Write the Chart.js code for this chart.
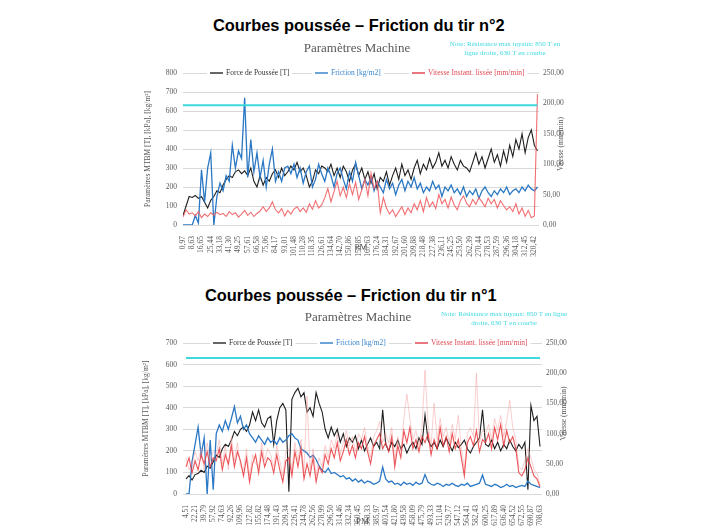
<!DOCTYPE html>
<html>
<head>
<meta charset="utf-8">
<script src="https://cdn.jsdelivr.net/npm/chart.js@4/dist/chart.umd.min.js"></script>
<style>
  body { margin: 0; background: #fff; width: 707px; height: 530px; position: relative; overflow: hidden; }
  h2 { position: absolute; margin: 0; font: bold 16.4px "Liberation Sans", Arial, sans-serif; color: #000; white-space: nowrap; }
  #titre2 { left: 213px; top: 16px; }
  #titre1 { left: 205px; top: 286px; }
  canvas { position: absolute; }
  #tir2 { left: 142px; top: 36px; }
  #tir1 { left: 140px; top: 304px; }
</style>
</head>
<body>
<h2 id="titre2">Courbes poussée – Friction du tir n°2</h2>
<h2 id="titre1">Courbes poussée – Friction du tir n°1</h2>
<canvas id="tir2" width="437" height="222"></canvas>
<canvas id="tir1" width="440" height="225"></canvas>
<script>
// 3 mesures par intervalle d'étiquette PM
const PAS = 3;
const limiteCourbe = 630;

// ---- tir n°2 ----
const pmTir2 = ["0,97","8,63","16,65","25,44","33,18","41,30","49,25","57,61","66,58","75,06","84,17","93,01","101,48","110,28","118,35","126,61","134,64","142,70","150,86","158,85","167,63","176,24","184,31","192,67","201,60","209,88","218,48","227,38","236,11","245,25","253,50","262,39","270,44","278,53","287,59","296,36","304,18","312,45","320,42"];
const forceTir2 = [50,100,150,145, 155,140,150, 120,90,130, 150,180,170,210, 240,260,250, 280,290,270, 285,260,300, 230,200,260, 210,250,230, 270,290,250, 300,260,280, 310,290,330, 280,300,260, 200,230,290, 270,310,300, 280,320,260, 300,250,310, 280,230,290, 320,260,300, 240,280,220, 270,190,250, 230,280,210, 260,300,240, 320,260,290, 240,300,340, 270,320,290, 350,300,330, 380,310,340, 300,360,320, 290,340,310, 300,280,330, 380,320,360, 300,350,400, 330,370,310, 390,330,420, 360,450,400, 480,380,460, 500,420,390];
const frictionTir2 = [0,0,0,0, 50,10,290, 120,300,380, 0,150,220, 180,260,230, 420,300,390, 350,670,250, 450,280,380, 250,340,200, 320,400,230, 280,230,300, 310,270,320, 250,300,220, 280,310,200, 240,320,270, 230,300,260, 200,270,300, 240,190,280, 230,330,260, 190,240,210, 250,180,230, 200,170,240, 190,220,160, 210,240,180, 230,200,250, 190,220,170, 200,180,230, 190,210,150, 200,180,210, 170,190,160, 200,150,180, 160,190,140, 180,200,170, 150,180,160, 190,170,200, 160,180,190, 170,200,180, 210,190,180,200];
const vitesseTir2 = [13,25,18,20, 15,22,12, 18,14,20, 16,21,17, 19,14,22, 17,20,13, 18,24,16, 21,14,19, 23,30,22, 28,38,25, 20,27,15, 24,18,26, 30,22,28, 21,35,26, 40,28,33, 45,60,38, 55,72,48, 62,45,68, 50,70,42, 58,75,48, 85,60,72, 20,45,28, 18,25,14, 22,30,17, 28,20,35, 25,40,22, 45,30,38, 27,50,35, 42,28,46, 33,25,40, 48,36,30, 42,34,45, 38,30,44, 35,42,28, 40,32,25, 30,22,35, 18,28,14, 24,12,15,215];

// ---- tir n°1 ----
const pmTir1 = ["4,51","22,21","39,79","57,92","74,63","92,26","109,96","127,82","155,82","174,48","191,43","209,34","226,41","244,78","262,56","278,99","296,50","314,46","332,34","350,45","368,33","385,97","403,54","421,80","439,58","458,09","475,79","493,33","511,04","529,77","547,12","564,41","582,43","600,25","617,89","636,40","654,52","672,55","690,87","708,63"];
const forceTir1 = [70,85,65,90, 95,110,100, 130,120,150, 180,170,210, 230,220,250, 290,270,300, 310,290,320, 380,340,390, 330,310,350, 360,230,340, 400,420,390, 10,440,470, 490,450,470, 380,400,360, 470,420,380, 300,260,310, 270,300,240, 280,220,260, 240,270,210, 250,200,230, 260,220,240, 210,390,230, 200,240,220, 250,210,230, 190,220,240, 210,260,230, 366,250,220, 240,210,250, 220,260,230, 200,240,215, 230,250,210, 190,220,240, 260,390,230, 220,250,210, 240,200,230, 210,250,220, 200,230,210, 240,20,410, 340,360,220];
const frictionTir1 = [0,0,150,230, 310,180,260, 0,250,20, 280,320,290, 340,300,350, 405,330,360, 300,320,280, 260,240,270, 250,230,260, 240,250,230, 260,240,250, 270,280,260, 250,210,200, 190,170,180, 160,130,110, 100,120,95, 100,90,80, 85,70,75, 60,70,55, 65,50,60, 55,45,50, 60,125,70, 55,60,45, 50,40,55, 45,50,40, 55,45,50, 90,55,45, 40,50,45, 35,45,40, 50,40,35, 45,40,50, 35,40,45, 50,88,45, 40,35,45, 40,30,35, 45,35,40, 30,35,40, 35,60,45, 40,35,30];
const vitesseTir1 = [45,60,35,55, 40,65,50, 70,45,60, 55,75,40, 65,50,80, 45,70,55, 30,60,20, 50,65,35, 70,45,60, 55,35,65, 40,20,55, 60,30,70, 45,75,25, 50,30,60, 20,45,35, 65,50,75, 60,85,55, 70,90,65, 80,60,85, 75,95,70, 50,80,90, 100,75,85, 70,95,45, 80,60,105, 85,110,75, 90,70,95, 85,100,65, 90,75,110, 80,95,70, 100,75,90, 60,30,85, 95,80,105, 70,90,85, 100,75,110, 90,115,80, 105,85,95, 75,35,30, 40,60,45, 30,25,12];
const vitesseBruteTir1 = [60,40,50,70, 55,75,40, 85,55,70, 65,90,50, 80,40,95, 55,85,45, 40,75,30, 65,50,45, 85,55,75, 65,45,80, 55,30,70, 75,40,85, 55,90,35, 162,40,75, 30,60,45, 80,60,90, 75,100,65, 85,105,80, 95,70,100, 90,110,80, 60,95,105, 120,85,100, 85,110,55, 95,70,125, 165,125,90, 105,80,110, 205,115,80, 150,90,125, 95,110,85, 115,90,130, 75,40,100, 110,95,200, 85,105,100, 115,90,125, 105,130,95, 120,155,110, 90,45,40, 55,75,60, 40,35,15];

const SERIF = '"Liberation Serif", "Times New Roman", serif';
const GRIS = '#595959';

// titre, note, légende, titres d'axes dessinés par-dessus
const decor = {
  id: 'decor',
  afterDraw(chart, args, o) {
    const ctx = chart.ctx, a = chart.chartArea;
    ctx.save();
    ctx.textBaseline = 'middle';
    ctx.textAlign = 'center';
    ctx.fillStyle = GRIS;
    ctx.font = '13px ' + SERIF;
    ctx.fillText('Paramètres Machine', o.titreX, o.titreY);

    ctx.fillStyle = '#3fd9e0';
    ctx.font = '7px ' + SERIF;
    o.note.forEach((t, k) => ctx.fillText(t, o.noteX, o.noteY + k * 9));

    ctx.font = '7.5px ' + SERIF;
    ctx.textAlign = 'left';
    chart.data.datasets.slice(0, 3).forEach((ds, k) => {
      const x = o.legendeX[k];
      const w = ctx.measureText(ds.label).width;
      ctx.fillStyle = '#fff';
      ctx.fillRect(x - 3, a.top - 5, w + 22, 10);
      ctx.strokeStyle = ds.legendColor;
      ctx.lineWidth = 1.5;
      ctx.beginPath();
      ctx.moveTo(x, a.top);
      ctx.lineTo(x + 13, a.top);
      ctx.stroke();
      ctx.fillStyle = ds.legendColor;
      ctx.fillText(ds.label, x + 16, a.top);
    });

    ctx.fillStyle = GRIS;
    ctx.textAlign = 'center';
    ctx.font = '9px ' + SERIF;
    ctx.fillText('PM', (a.left + a.right) / 2, a.bottom + o.pmDy);

    ctx.font = '7.5px ' + SERIF;
    ctx.translate(a.right + 22, (a.top + a.bottom) / 2 - 5);
    ctx.rotate(-Math.PI / 2);
    ctx.fillText('Vitesse (mm/min)', 0, 0);
    ctx.restore();
  }
};

function tracer(id, s) {
  const pts = arr => arr.map((v, i) => ({ x: i / PAS, y: v }));
  const fin = (s.force.length - 1) / PAS;
  const datasets = [
    { label: 'Force de Poussée [T]', data: pts(s.force), borderColor: '#1e1e1e', legendColor: '#333', borderWidth: 1.1, yAxisID: 'y', order: 4 },
    { label: 'Friction [kg/m2]', data: pts(s.friction), borderColor: '#2b78c4', legendColor: '#3a86cc', borderWidth: 1.3, yAxisID: 'y', order: 3 },
    { label: 'Vitesse Instant. lissée [mm/min]', data: pts(s.vitesse), borderColor: s.rouge, legendColor: '#e04a55', borderWidth: 1.1, yAxisID: 'y2', order: 1 },
    { label: 'Limite', data: [{ x: 0, y: limiteCourbe }, { x: fin, y: limiteCourbe }], borderColor: '#3fd9dd', borderWidth: 2, yAxisID: 'y', order: 0 }
  ];
  if (s.brute) {
    datasets.push({ label: 'brute', data: pts(s.brute), borderColor: 'rgba(246,160,160,0.5)', borderWidth: 1, yAxisID: 'y2', order: 2 });
  }
  const tickFont = { family: SERIF, size: 7.5 };
  return new Chart(document.getElementById(id), {
    type: 'line',
    data: { datasets },
    options: {
      responsive: false,
      animation: false,
      events: [],
      elements: { point: { radius: 0 }, line: { tension: 0 } },
      layout: { padding: { top: s.padTop } },
      plugins: { legend: { display: false }, tooltip: { enabled: false }, decor: s.decor },
      scales: {
        x: {
          type: 'linear', min: s.xMin, max: s.xMax,
          afterFit(sc) { sc.height = s.xH; },
          grid: { display: false }, border: { display: false },
          ticks: {
            stepSize: 1, includeBounds: false, autoSkip: false, minRotation: 90, maxRotation: 90,
            padding: 3, color: GRIS, font: tickFont,
            callback: v => Number.isInteger(v) && s.labels[v] !== undefined ? s.labels[v] : ''
          }
        },
        y: {
          position: 'left', min: 0, max: s.yMax,
          afterFit(sc) { sc.width = s.yW; },
          grid: { color: '#d9d9d9', drawTicks: false }, border: { display: false },
          ticks: { stepSize: 100, padding: 6, color: GRIS, font: tickFont },
          title: { display: true, text: 'Paramètres MTBM [T], [kPa], [kg/m²]', color: GRIS, font: tickFont, padding: 2 }
        },
        y2: {
          position: 'right', min: 0, max: 250,
          afterFit(sc) { sc.width = s.y2W; },
          grid: { display: false, drawTicks: false }, border: { display: false },
          ticks: { stepSize: 50, padding: 4, color: GRIS, font: tickFont, callback: v => v.toFixed(2).replace('.', ',') }
        }
      }
    },
    plugins: [decor]
  });
}

tracer('tir2', {
  labels: pmTir2, force: forceTir2, friction: frictionTir2, vitesse: vitesseTir2,
  rouge: 'rgba(240,95,100,0.9)',
  xMin: 0, xMax: 38.5, yMax: 800, yW: 41, y2W: 40, xH: 33, padTop: 37,
  decor: {
    titreX: 215, titreY: 13, noteX: 363, noteY: 8, legendeX: [68, 173, 270], pmDy: 23,
    note: ['Note: Résistance max tuyaux: 850 T en', 'ligne droite, 630 T en courbe']
  }
});

tracer('tir1', {
  labels: pmTir1, force: forceTir1, friction: frictionTir1, vitesse: vitesseTir1, brute: vitesseBruteTir1,
  rouge: 'rgba(232,55,60,0.85)',
  xMin: -0.33, xMax: 39.22, yMax: 700, yW: 43, y2W: 38, xH: 35, padTop: 39,
  decor: {
    titreX: 218, titreY: 14, noteX: 364, noteY: 10, legendeX: [73, 180, 275], pmDy: 28,
    note: ['Note: Résistance max tuyaux: 850 T en ligne', 'droite, 630 T en courbe']
  }
});
</script>
</body>
</html>
